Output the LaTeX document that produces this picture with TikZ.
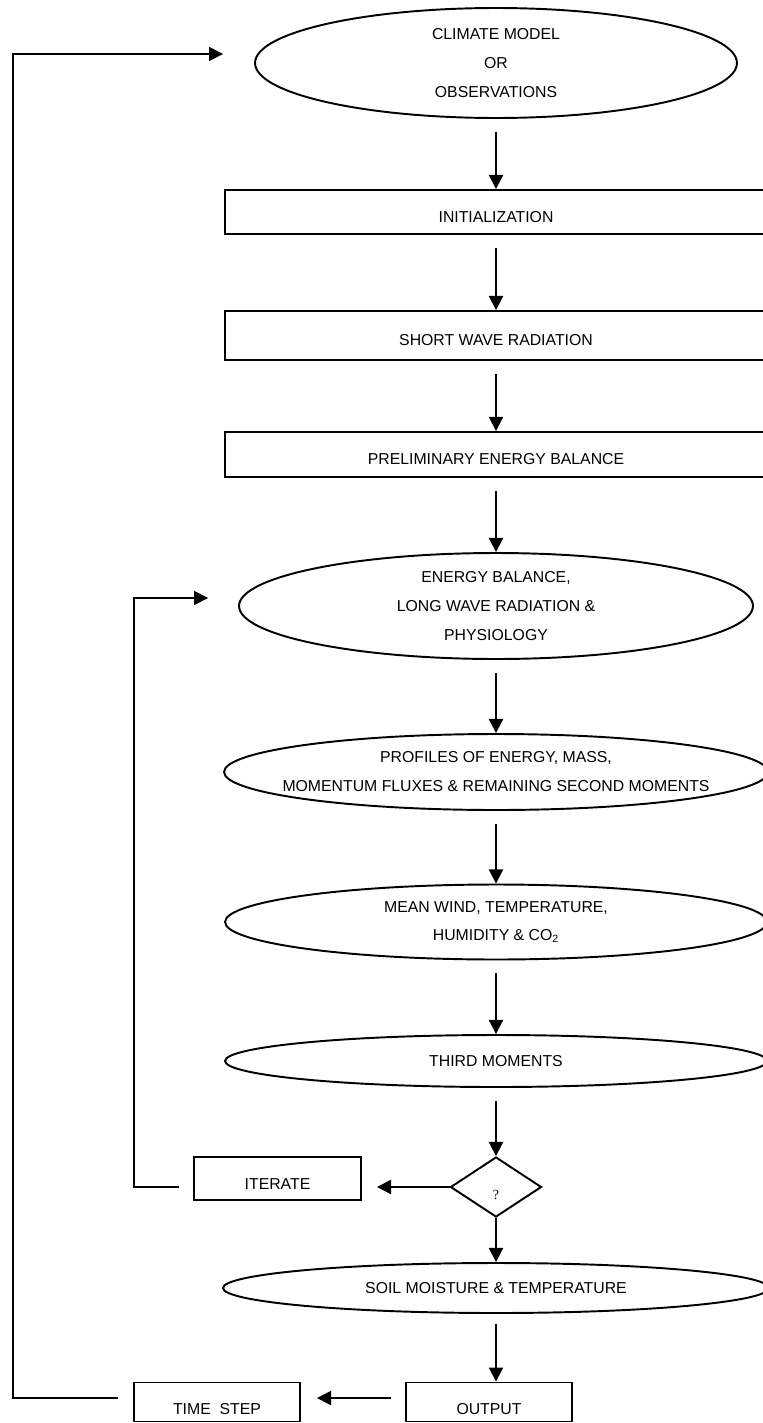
\documentclass[tikz,border=0pt]{standalone}
\usepackage{fontspec}
\setsansfont{Liberation Sans}
\newfontfamily\qfont{Liberation Serif}
\usetikzlibrary{arrows.meta,positioning,shapes.geometric}

\begin{document}
\begin{tikzpicture}[x=0.02cm,y=-0.02cm,
	every node/.style={font=\sffamily\fontsize{9}{16.5}\selectfont,align=center},
	oval/.style={draw,ellipse,inner sep=0pt,line width=1.1pt},
	box/.style={draw,rectangle,inner sep=0pt,line width=1.1pt,text height=12pt},
	arr/.style={-{Triangle[length=8pt,width=8pt]},line width=1.1pt,shorten <=0.26cm},
	back/.style={-{Triangle[length=8pt,width=8pt]},line width=0.8pt}]
	\useasboundingbox (0,0) rectangle (763,1423);

	\coordinate(steploop) at (13,54);
	\coordinate(iterloop) at (134,598);
	\coordinate(lowrow) at (0,1398);

	\node[oval,minimum width=9.64cm,minimum height=2.2cm] (climate) at (496,63) {CLIMATE MODEL\\OR\\OBSERVATIONS};
	\node[box,minimum width=10.84cm,minimum height=0.88cm] (init) at (496,212) {INITIALIZATION};
	\node[box,minimum width=10.84cm,minimum height=0.98cm] (short) at (496,335.5) {SHORT WAVE RADIATION};
	\node[box,minimum width=10.84cm,minimum height=0.9cm] (prelim) at (496,454.5) {PRELIMINARY ENERGY BALANCE};
	\node[oval,minimum width=10.28cm,minimum height=2.12cm] (energy) at (496,606) {ENERGY BALANCE,\\LONG WAVE RADIATION \&\\PHYSIOLOGY};
	\node[oval,minimum width=10.88cm,minimum height=1.52cm,label={center:{PROFILES OF ENERGY, MASS,\\MOMENTUM FLUXES \& REMAINING SECOND MOMENTS}}] (profiles) at (496,772) {};
	\node[oval,minimum width=10.84cm,minimum height=1.5cm] (meanwind) at (496,922) {MEAN WIND, TEMPERATURE,\\HUMIDITY \& CO\textsubscript{2}};
	\node[oval,minimum width=10.84cm,minimum height=1.04cm] (third) at (496,1061) {THIRD MOMENTS};
	\node[draw,diamond,line width=1.1pt,inner sep=0pt,minimum width=1.82cm,minimum height=1.2cm,text height=14pt,font=\qfont\fontsize{8}{8}\selectfont] (test) at (496,1187) {?};
	\node[box,minimum width=3.34cm,minimum height=0.86cm] (iterate) at (277.5,1178.5) {ITERATE};
	\node[oval,minimum width=10.92cm,minimum height=1cm] (soil) at (496,1288) {SOIL MOISTURE \& TEMPERATURE};
	\node[box,minimum width=3.32cm,minimum height=0.78cm,text height=14pt] (output) at (489,1402) {OUTPUT};
	\node[box,minimum width=3.32cm,minimum height=0.78cm,text height=14pt] (timestep) at (217,1402) {TIME~~STEP};

	\draw[arr] (climate) -- (init);
	\draw[arr] (init) -- (short);
	\draw[arr] (short) -- (prelim);
	\draw[arr] (prelim) -- (energy);
	\draw[arr] (energy) -- (profiles);
	\draw[arr] (profiles) -- (meanwind);
	\draw[arr] (meanwind) -- (third);
	\draw[arr] (third) -- (test);
	\draw[arr,shorten <=0pt] (test) -- (soil);
	\draw[arr,shorten <=0.2cm] (soil) -- (soil.south |- output.north);
	\draw[arr,shorten <=0pt,shorten >=0.3cm] (test.west) -- (test.west -| iterate.east);
	\draw[arr,shorten <=0.28cm,shorten >=0.32cm] (output.west |- lowrow) -- (timestep.east |- lowrow);
	\draw[back,shorten <=0.3cm,shorten >=0.62cm] (timestep.west |- lowrow) -| (steploop) -- (steploop -| climate.west);
	\draw[back,shorten <=0.28cm,shorten >=0.6cm] (iterate.west |- test) -| (iterloop) -- (iterloop -| energy.west);
\end{tikzpicture}
\end{document}
